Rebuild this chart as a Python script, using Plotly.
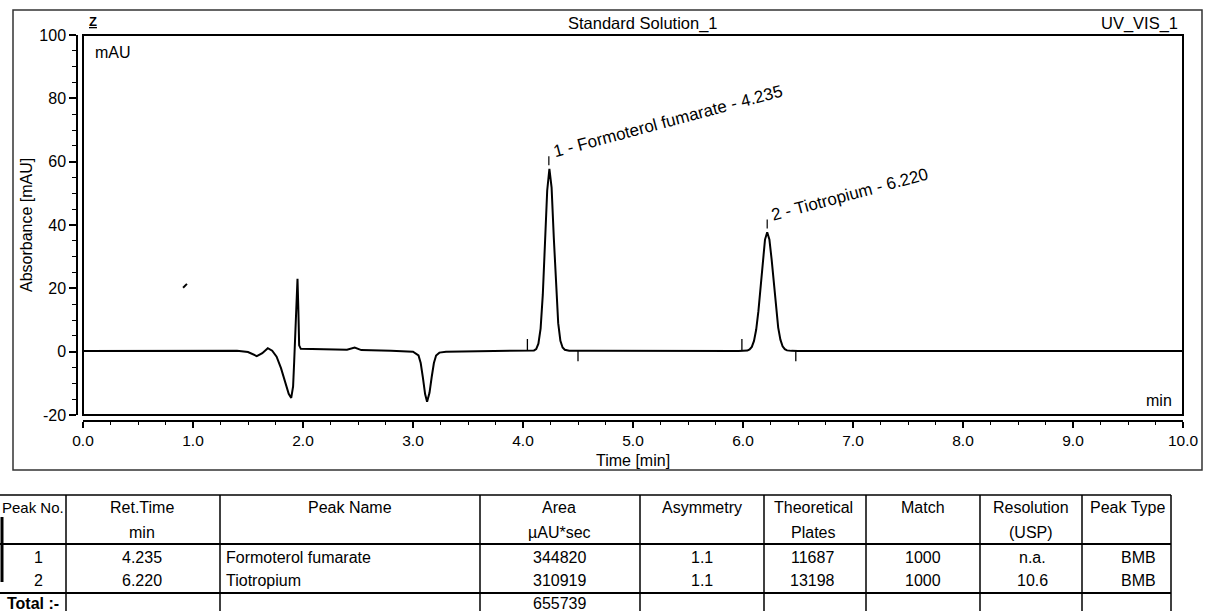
import plotly.graph_objects as go

# ---------------- data ----------------
time_min = [0.00, 0.50, 1.00, 1.40, 1.50, 1.58, 1.63, 1.68, 1.72, 1.76, 1.80, 1.84, 1.87, 1.893,
            1.91, 1.92, 1.93, 1.94, 1.95, 1.958, 1.965, 1.98, 2.10, 2.40, 2.47, 2.53, 2.80,
            3.00, 3.05, 3.07, 3.09, 3.11, 3.128, 3.15, 3.17, 3.19, 3.21, 3.24, 3.30, 3.60, 3.90,
            4.04, 4.10, 4.12, 4.14, 4.16, 4.18, 4.20, 4.22, 4.24, 4.26, 4.28, 4.30, 4.32, 4.34,
            4.36, 4.38, 4.42, 4.60, 5.00, 5.50, 5.96, 6.00, 6.04, 6.06, 6.08, 6.10, 6.12, 6.14,
            6.16, 6.18, 6.20, 6.22, 6.24, 6.26, 6.28, 6.30, 6.32, 6.34, 6.36, 6.38, 6.40, 6.44,
            6.50, 7.00, 8.00, 9.00, 10.00]
absorbance = [0.2, 0.2, 0.2, 0.3, -0.1, -1.4, -0.5, 1.1, 0.3, -1.6, -5.2, -10.0, -13.3, -14.6,
              -11.0, -3.0, 7.5, 18.0, 23.0, 13.0, 2.0, 0.9, 0.8, 0.6, 1.3, 0.5, 0.3,
              0.0, -1.2, -3.6, -8.2, -13.4, -15.8, -13.0, -8.0, -3.6, -1.2, -0.3, 0.0, 0.1, 0.3,
              0.3, 0.4, 0.8, 2.5, 7.3, 18.0, 34.4, 50.9, 57.7, 51.8, 36.0, 20.0, 9.0, 3.4,
              1.3, 0.6, 0.3, 0.3, 0.2, 0.2, 0.2, 0.3, 0.35, 0.7, 1.5, 3.4, 7.0, 12.8,
              20.5, 28.9, 35.4, 37.7, 35.4, 29.2, 21.2, 13.6, 7.6, 3.8, 1.7, 0.8, 0.4, 0.25,
              0.2, 0.2, 0.2, 0.2, 0.2]

stray_x = [0.91, 0.945]
stray_y = [20.2, 21.4]

peak_no = ["1", "2"]
ret_time = [4.235, 6.220]
peak_height = [57.7, 37.7]
peak_start = [4.04, 5.99]
peak_end = [4.50, 6.48]
peak_name = ["Formoterol fumarate", "Tiotropium"]
area = [344820, 310919]
asymmetry = ["1.1", "1.1"]
plates = [11687, 13198]
match = [1000, 1000]
resolution = ["n.a.", "10.6"]
peak_type = ["BMB", "BMB"]
area_total = sum(area)

x_ticks = [0, 1, 2, 3, 4, 5, 6, 7, 8, 9, 10]
x_tick_labels = ["0.0", "1.0", "2.0", "3.0", "4.0", "5.0", "6.0", "7.0", "8.0", "9.0", "10.0"]
y_ticks = [-20, 0, 20, 40, 60, 80, 100]
y_tick_labels = ["-20", "0", "20", "40", "60", "80", "100"]

# ---------------- helpers ----------------
W, H = 1205, 611
FONT = "Liberation Sans, Arial, sans-serif"


def px(x):
    return x / W


def py(y):
    return 1 - y / H


fig = go.Figure()
fig.add_trace(go.Scatter(x=time_min, y=absorbance, mode="lines",
                         line=dict(color="black", width=2),
                         showlegend=False, hoverinfo="skip"))
fig.add_trace(go.Scatter(x=stray_x, y=stray_y, mode="lines",
                         line=dict(color="black", width=2),
                         showlegend=False, hoverinfo="skip"))

shapes = []
annotations = []

# plot frame
shapes.append(dict(type="rect", xref="x domain", yref="y domain", x0=0, x1=1, y0=0, y1=1,
                   line=dict(color="black", width=2)))
# outer frame
shapes.append(dict(type="rect", xref="paper", yref="paper", x0=px(13), x1=px(1202),
                   y0=py(470), y1=py(10), line=dict(color="#333", width=1.5)))

# peak event markers and labels
for i in range(len(ret_time)):
    shapes.append(dict(type="line", xref="x", yref="y", x0=peak_start[i], x1=peak_start[i],
                       y0=0.3, y1=4.0, line=dict(color="black", width=1.3)))
    shapes.append(dict(type="line", xref="x", yref="y", x0=peak_end[i], x1=peak_end[i],
                       y0=0.3, y1=-3.0, line=dict(color="black", width=1.3)))
    shapes.append(dict(type="line", xref="x", yref="y", x0=ret_time[i], x1=ret_time[i],
                       y0=peak_height[i] + 1.2, y1=peak_height[i] + 4.0,
                       line=dict(color="black", width=1.2)))
    annotations.append(dict(x=ret_time[i], y=peak_height[i], xref="x", yref="y",
                            text=f"{peak_no[i]} - {peak_name[i]} - {ret_time[i]:.3f}",
                            showarrow=False, textangle=-15, xanchor="left", yanchor="bottom",
                            xshift=0, yshift=5, font=dict(size=17, color="black", family=FONT)))


def ann(x, y, text, size=16, xanchor="center", yanchor="middle", angle=0, bold=False):
    if bold:
        text = f"<b>{text}</b>"
    annotations.append(dict(x=px(x), y=py(y), xref="paper", yref="paper", text=text,
                            showarrow=False, xanchor=xanchor, yanchor=yanchor,
                            textangle=angle, font=dict(size=size, color="black", family=FONT)))


ann(643, 23, "Standard Solution_1", size=16.5)
ann(1180, 23, "UV_VIS_1", xanchor="right", size=16.5)
ann(93, 22, "<u>Z</u>", size=13, bold=True)
ann(93, 52, "mAU", xanchor="left")
ann(1174, 400, "min", xanchor="right")
ann(26, 225, "Absorbance [mAU]", angle=-90)
ann(633, 460, "Time [min]")

# ---------------- table ----------------
col_edges = [1, 66, 220, 480, 640, 764, 866, 980, 1082, 1171]
t_top, t_head, t_data = 495, 544, 593
for yy, wdt in [(t_top, 1.5), (t_head, 2), (t_data, 2)]:
    shapes.append(dict(type="line", xref="paper", yref="paper", x0=px(0), x1=px(1171),
                       y0=py(yy), y1=py(yy), line=dict(color="black", width=wdt)))
for j, xx in enumerate(col_edges):
    if j == 0:
        shapes.append(dict(type="line", xref="paper", yref="paper", x0=px(2), x1=px(2),
                           y0=py(517), y1=py(582), line=dict(color="black", width=3)))
        continue
    shapes.append(dict(type="line", xref="paper", yref="paper", x0=px(xx), x1=px(xx),
                       y0=py(t_top), y1=0, line=dict(color="black", width=1.5)))

h1, h2 = 508, 532
rows_y = [557, 580]
ann(0, h1, "Peak No.", xanchor="left", size=15)
ann(142, h1, "Ret.Time")
ann(142, h2, "min")
ann(350, h1, "Peak Name")
ann(559, h1, "Area")
ann(559, h2, "µAU*sec")
ann(702, h1, "Asymmetry")
ann(813, h1, "Theoretical")
ann(813, h2, "Plates")
ann(923, h1, "Match")
ann(1031, h1, "Resolution")
ann(1031, h2, "(USP)")
ann(1127, h1, "Peak Type")
for i, yy in enumerate(rows_y):
    ann(38, yy, peak_no[i])
    ann(142, yy, f"{ret_time[i]:.3f}")
    ann(224, yy, peak_name[i], xanchor="left")
    ann(559, yy, str(area[i]))
    ann(702, yy, asymmetry[i])
    ann(812, yy, str(plates[i]))
    ann(923, yy, str(match[i]))
    ann(1032, yy, resolution[i])
    ann(1138, yy, peak_type[i])
ann(5, 603, "Total :-", xanchor="left", bold=True)
ann(559, 603, str(area_total))

fig.update_layout(
    width=W, height=H, margin=dict(l=0, r=0, t=0, b=0, autoexpand=False),
    paper_bgcolor="white", plot_bgcolor="white",
    font=dict(family=FONT, color="black"),
    shapes=shapes, annotations=annotations, showlegend=False,
    xaxis=dict(domain=[px(83), px(1183)], range=[0, 10], anchor="free", position=py(421),
               automargin=False,
               showline=True, linecolor="black", linewidth=1.5, ticks="outside", ticklen=6,
               tickwidth=1.5, tickcolor="black", tickvals=x_ticks,
               ticktext=x_tick_labels, tickfont=dict(size=15.5, family=FONT),
               minor=dict(ticks="outside", dtick=0.25, ticklen=3, tickcolor="black", tickwidth=1.2),
               showgrid=False, zeroline=False, fixedrange=True),
    yaxis=dict(domain=[py(415), py(35)], range=[-20, 100], anchor="free", position=px(77),
               automargin=False,
               showline=True, linecolor="black", linewidth=1.5, ticks="outside", ticklen=7,
               tickwidth=1.5, tickcolor="black", tickvals=y_ticks, ticktext=y_tick_labels,
               tickfont=dict(size=16, family=FONT),
               minor=dict(ticks="outside", dtick=5, ticklen=4, tickcolor="black", tickwidth=1.2),
               showgrid=False, zeroline=False, fixedrange=True),
)

fig.write_html("out.html")
